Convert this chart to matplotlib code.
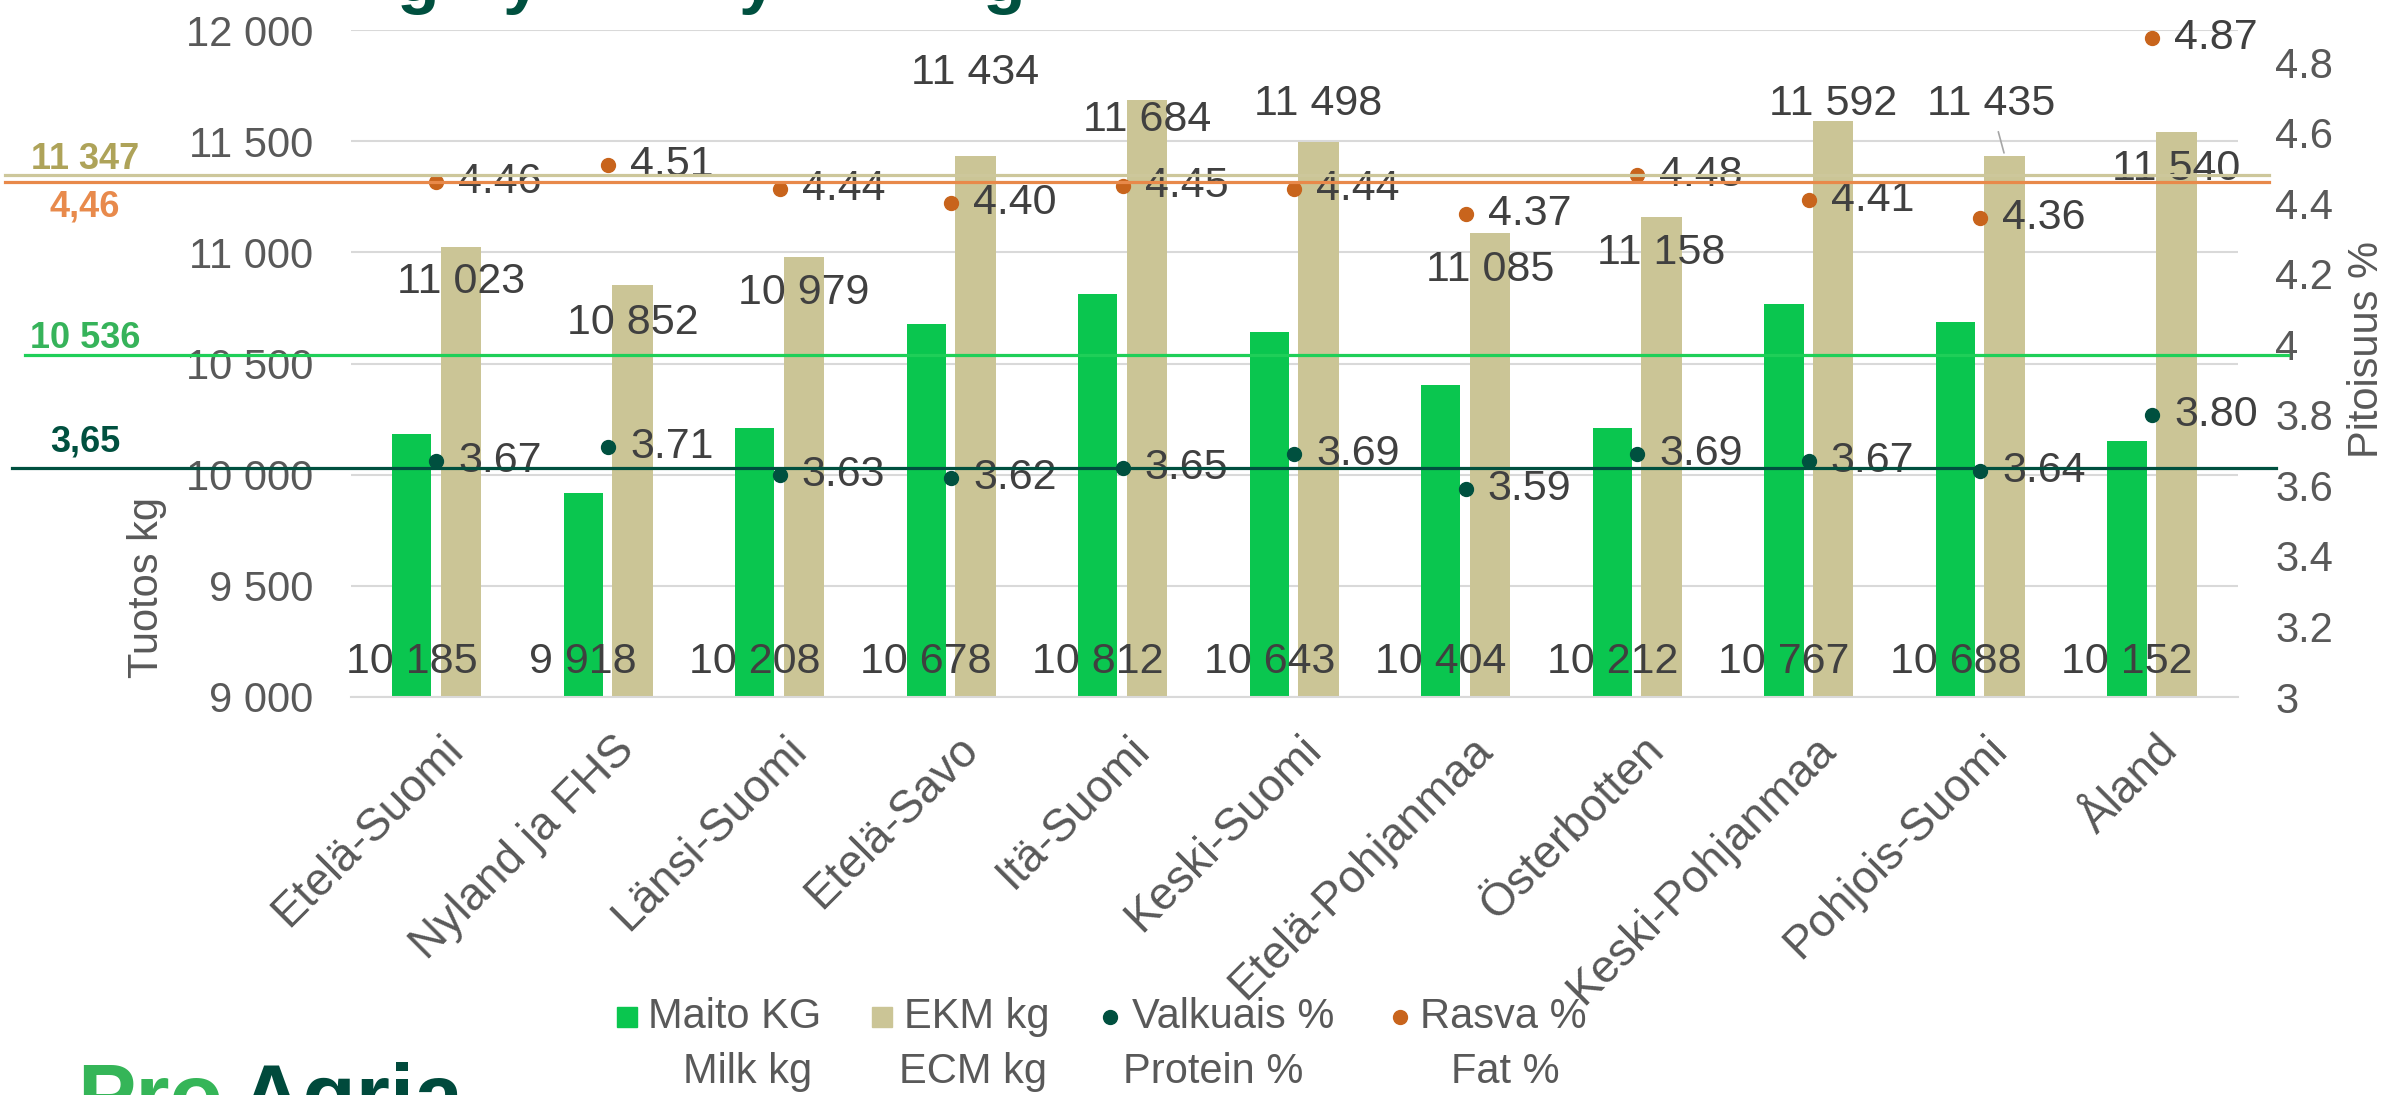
import numpy as np
import matplotlib
matplotlib.use("Agg")
import matplotlib.pyplot as plt
from matplotlib.lines import Line2D
from matplotlib.transforms import blended_transform_factory

plt.rcParams['font.family'] = ['Liberation Sans', 'DejaVu Sans']

# === Data ===
regions = ["Etelä-Suomi", "Nyland ja FHS", "Länsi-Suomi", "Etelä-Savo", "Itä-Suomi",
           "Keski-Suomi", "Etelä-Pohjanmaa", "Österbotten", "Keski-Pohjanmaa",
           "Pohjois-Suomi", "Åland"]
maito_kg = [10185, 9918, 10208, 10678, 10812, 10643, 10404, 10212, 10767, 10688, 10152]
ekm_kg = [11023, 10852, 10979, 11434, 11684, 11498, 11085, 11158, 11592, 11435, 11540]
valkuais = [3.67, 3.71, 3.63, 3.62, 3.65, 3.69, 3.59, 3.69, 3.67, 3.64, 3.80]
rasva = [4.46, 4.51, 4.44, 4.40, 4.45, 4.44, 4.37, 4.48, 4.41, 4.36, 4.87]

# averages drawn as lines across the chart
avg_maito = 10536
avg_ekm = 11347
avg_valkuais = 3.65
avg_rasva = 4.46

left_ticks = [9000, 9500, 10000, 10500, 11000, 11500, 12000]
right_ticks = [3, 3.2, 3.4, 3.6, 3.8, 4, 4.2, 4.4, 4.6, 4.8]

# label nudges for EKM values (pixels, as placed in the original)
ekm_dx = [0, 0, 0, 0, 0, 0, 0, 0, 0, -14, 0]
ekm_dy = [-35, -38, -36, 83, -20, 38, -37, -36, 17, 52, -37]

# === Colours ===
C_MAITO = '#0ac64f'
C_EKM = '#cbc596'
C_VALK = '#00503f'
C_RASVA = '#c8641c'
C_GRID = '#d9d9d9'
C_TICK = '#595959'
C_LABEL = '#404040'

W, H = 2389, 1095
fig = plt.figure(figsize=(W / 100, H / 100), dpi=100)
ax = fig.add_axes([350.7 / W, (H - 697) / H, 1887 / W, 667 / H])
ax2 = ax.twinx()

x = np.arange(len(regions))

ax.bar(x - 0.145, maito_kg, 0.228, color=C_MAITO, zorder=2)
ax.bar(x + 0.142, ekm_kg, 0.236, color=C_EKM, zorder=2)

ax.set_xlim(-0.5, len(regions) - 0.5)
ax.set_ylim(9000, 12000)
ax.set_yticks(left_ticks)
ax.set_yticklabels([f"{t:,}".replace(",", " ") for t in left_ticks])
ax.grid(axis='y', color=C_GRID, lw=1.5, zorder=0)
ax.set_axisbelow(True)
ax.set_xticks([])
for s in ax.spines.values():
    s.set_visible(False)
for s in ax2.spines.values():
    s.set_visible(False)
ax.spines['bottom'].set_visible(True)
ax.spines['bottom'].set_color(C_GRID)
ax.spines['bottom'].set_linewidth(1.5)
ax.tick_params(axis='y', length=0, pad=27, labelsize=30, labelcolor=C_TICK)

ax2.set_ylim(3, 4.892)
ax2.set_yticks(right_ticks)
ax2.set_yticklabels([f"{t:g}" for t in right_ticks])
ax2.tick_params(axis='y', length=0, pad=27, labelsize=30, labelcolor=C_TICK)

ax2.plot(x, valkuais, 'o', color=C_VALK, ms=10, ls='none', zorder=3)
ax2.plot(x, rasva, 'o', color=C_RASVA, ms=10, ls='none', zorder=3)

# value labels
for i in x:
    ax.annotate(f"{maito_kg[i]:,}".replace(",", " "), xy=(i - 0.145, 9000),
                xytext=(0, 35), textcoords='offset pixels', ha='center', va='center',
                fontsize=31, color=C_LABEL, zorder=5)
    arrow = None
    if i == 9:
        arrow = dict(arrowstyle='-', color='#a6a6a6', lw=1.2, shrinkA=4, shrinkB=2)
    ax.annotate(f"{ekm_kg[i]:,}".replace(",", " "), xy=(i + 0.142, ekm_kg[i]),
                xytext=(ekm_dx[i], ekm_dy[i]), textcoords='offset pixels',
                ha='center', va='center', fontsize=31, color=C_LABEL, zorder=5,
                arrowprops=arrow)
    ax2.annotate(f"{valkuais[i]:.2f}", xy=(i, valkuais[i]), xytext=(22, 0),
                 textcoords='offset pixels', ha='left', va='center',
                 fontsize=31, color=C_LABEL, zorder=5)
    ax2.annotate(f"{rasva[i]:.2f}", xy=(i, rasva[i]), xytext=(22, 0),
                 textcoords='offset pixels', ha='left', va='center',
                 fontsize=31, color=C_LABEL, zorder=5)
    ax.annotate(regions[i], xy=(i, 0), xycoords=('data', 'axes fraction'),
                xytext=(20, -46), textcoords='offset pixels', ha='right', va='center',
                rotation=45, rotation_mode='anchor', fontsize=33, color=C_TICK,
                annotation_clip=False)

# average lines, running past the plot area
tl = blended_transform_factory(fig.transFigure, ax.transData)
tr = blended_transform_factory(fig.transFigure, ax2.transData)
avg_lines = [
    (avg_ekm, tl, 5, 2269, '#cdc79b', '#aea359', "11 347", 16),
    (avg_rasva, tr, 5, 2269, '#e8894a', '#e88a4c', "4,46", -25),
    (avg_maito, tl, 25, 2288, '#1fcf58', '#36b35a', "10 536", 17),
    (avg_valkuais, tr, 12, 2276, C_VALK, C_VALK, "3,65", 26),
]
for val, tf, x0, x1, lc, tc, txt, dy in avg_lines:
    ax2.add_line(Line2D([x0 / W, x1 / W], [val, val], transform=tf, color=lc,
                        lw=2.3, zorder=6, clip_on=False))
    ax2.annotate(txt, xy=(85 / W, val), xycoords=tf, xytext=(0, dy),
                 textcoords='offset pixels', ha='center', va='center',
                 fontsize=26, fontweight='bold', color=tc, annotation_clip=False)

# axis titles
fig.text(147 / W, 1 - 587 / H, "Tuotos kg", rotation=90, ha='center', va='center',
         fontsize=30, color=C_TICK)
fig.text(2367 / W, 1 - 350 / H, "Pitoisuus %", rotation=90, ha='center', va='center',
         fontsize=30, color=C_TICK)

# legend: Finnish names with English underneath
leg_y1 = 1 - 1017 / H
leg_y2 = 1 - 1072 / H
legend_items = [
    ('s', C_MAITO, 627, 648, "Maito KG", 748, "Milk kg", 15),
    ('s', C_EKM, 882, 904, "EKM kg", 973, "ECM kg", 15),
    ('o', C_VALK, 1110, 1132, "Valkuais %", 1213, "Protein %", 10),
    ('o', C_RASVA, 1400, 1420, "Rasva %", 1505, "Fat %", 10),
]
for mk, col, mx, tx, t1, cx2, t2, ms in legend_items:
    fig.add_artist(Line2D([mx / W], [leg_y1], marker=mk, color=col, ms=ms,
                          ls='none', transform=fig.transFigure))
    fig.text(tx / W, leg_y1, t1, ha='left', va='center', fontsize=30, color=C_TICK)
    fig.text(cx2 / W, leg_y2, t2, ha='center', va='center', fontsize=30, color=C_TICK)

# title cut off at the top edge: only the descenders show
for ch, cx in [('g', 417), ('y', 522), ('y', 758), ('g', 1003)]:
    fig.text(cx / W, 1 - 1 / H, ch, ha='center', va='baseline', fontsize=50,
             fontweight='bold', color='#00503f')

# logo cut off at the bottom edge
fig.text(77 / W, -30 / H, "Pro", ha='left', va='baseline', fontsize=63,
         fontweight='bold', color='#35b558')
fig.text(240 / W, -30 / H, "Agria", ha='left', va='baseline', fontsize=63,
         fontweight='bold', color='#004a3c')

fig.savefig("out.png", dpi=100)
